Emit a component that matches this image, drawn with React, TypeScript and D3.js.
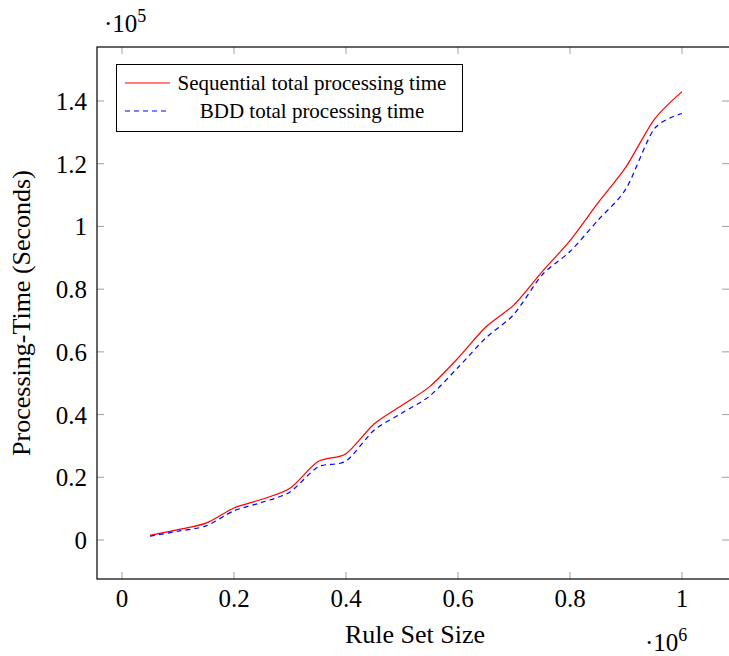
import React, {useEffect, useRef} from 'react';
import * as d3 from 'd3';

// rule set size (x 10^6)
const ruleSetSize = [0.05, 0.1, 0.15, 0.2, 0.25, 0.3, 0.35, 0.4, 0.45, 0.5, 0.55, 0.6, 0.65, 0.7, 0.75, 0.8, 0.85, 0.9, 0.95, 1.0];
// processing time (x 10^5 seconds)
const sequentialTime = [0.015, 0.033, 0.054, 0.102, 0.13, 0.165, 0.25, 0.275, 0.37, 0.43, 0.49, 0.58, 0.68, 0.75, 0.855, 0.955, 1.075, 1.19, 1.34, 1.43];
const bddTime = [0.012, 0.028, 0.045, 0.093, 0.12, 0.153, 0.233, 0.252, 0.35, 0.405, 0.46, 0.55, 0.645, 0.72, 0.845, 0.92, 1.02, 1.12, 1.31, 1.36];
const xTicks = [0, 0.2, 0.4, 0.6, 0.8, 1];
const yTicks = [0, 0.2, 0.4, 0.6, 0.8, 1, 1.2, 1.4];
const seriesNames = ['Sequential total processing time', 'BDD total processing time'];

const App = () => {
    const chartRef = useRef<SVGSVGElement>(null);
    const W = 729, H = 656;
    // plot frame in page coords (right edge runs off the canvas like the original)
    const box = {left: 97, top: 47, right: 731, bottom: 579};

    useEffect(() => {
        document.body.style.overflow = 'hidden';
        document.body.style.margin = '0';
        const svg = d3.select(chartRef.current);
        svg.selectAll('*').remove();
        const font = '"Liberation Serif", "Times New Roman", serif';

        const x = d3.scaleLinear().domain([0, 1]).range([122, 682]);
        const y = d3.scaleLinear().domain([0, 1.4]).range([540, 101]);

        // tick marks, inside, all four sides
        const ticks = svg.append('g').attr('stroke', '#a0a0a0').attr('stroke-width', 1);
        xTicks.forEach(t => {
            ticks.append('line').attr('x1', x(t)).attr('x2', x(t)).attr('y1', box.bottom).attr('y2', box.bottom - 7);
            ticks.append('line').attr('x1', x(t)).attr('x2', x(t)).attr('y1', box.top).attr('y2', box.top + 7);
        });
        yTicks.forEach(t => {
            ticks.append('line').attr('y1', y(t)).attr('y2', y(t)).attr('x1', box.left).attr('x2', box.left + 7);
            ticks.append('line').attr('y1', y(t)).attr('y2', y(t)).attr('x1', W).attr('x2', W - 7);
        });

        // frame
        svg.append('rect')
            .attr('x', box.left).attr('y', box.top)
            .attr('width', box.right - box.left).attr('height', box.bottom - box.top)
            .attr('fill', 'none').attr('stroke', '#000').attr('stroke-width', 1.2);

        // tick labels
        svg.append('g').selectAll('text').data(xTicks).join('text')
            .attr('x', d => x(d)).attr('y', 607)
            .attr('text-anchor', 'middle')
            .attr('font-family', font).attr('font-size', 25)
            .text(d => d3.format('')(d));
        svg.append('g').selectAll('text').data(yTicks).join('text')
            .attr('x', 87).attr('y', d => y(d) + 9)
            .attr('text-anchor', 'end')
            .attr('font-family', font).attr('font-size', 25)
            .text(d => d3.format('')(d));

        // scale multipliers
        const yMul = svg.append('text').attr('x', 104).attr('y', 32)
            .attr('font-family', font).attr('font-size', 25);
        yMul.append('tspan').text('·10');
        yMul.append('tspan').attr('font-size', 18).attr('dy', -10).text('5');
        const xMul = svg.append('text').attr('x', 645).attr('y', 651)
            .attr('font-family', font).attr('font-size', 25);
        xMul.append('tspan').text('·10');
        xMul.append('tspan').attr('font-size', 18).attr('dy', -10).text('6');

        // axis labels
        svg.append('text').attr('x', 415).attr('y', 643)
            .attr('text-anchor', 'middle')
            .attr('font-family', font).attr('font-size', 26)
            .text('Rule Set Size');
        svg.append('text')
            .attr('transform', 'translate(30,313) rotate(-90)')
            .attr('text-anchor', 'middle')
            .attr('font-family', font).attr('font-size', 26)
            .text('Processing-Time (Seconds)');

        // curves
        const line = d3.line<number>()
            .x((_, i) => x(ruleSetSize[i]))
            .y(d => y(d))
            .curve(d3.curveCardinal.tension(0.2));
        svg.append('path').datum(sequentialTime)
            .attr('fill', 'none').attr('stroke', '#ff0000').attr('stroke-width', 1.2)
            .attr('d', line);
        svg.append('path').datum(bddTime)
            .attr('fill', 'none').attr('stroke', '#0000ff').attr('stroke-width', 1.2)
            .attr('stroke-dasharray', '5,4')
            .attr('d', line);

        // legend
        const lg = svg.append('g');
        lg.append('rect').attr('x', 116.5).attr('y', 64.5).attr('width', 346).attr('height', 67)
            .attr('fill', '#fff').attr('stroke', '#000').attr('stroke-width', 1);
        const colors = ['#ff0000', '#0000ff'];
        const rows = [83, 111];
        seriesNames.forEach((name, i) => {
            lg.append('line').attr('x1', 125).attr('x2', 170).attr('y1', rows[i]).attr('y2', rows[i])
                .attr('stroke', colors[i]).attr('stroke-width', 1.2)
                .attr('stroke-dasharray', i === 1 ? '5,4' : null);
            lg.append('text').attr('x', 312).attr('y', rows[i] + 7)
                .attr('text-anchor', 'middle')
                .attr('font-family', font).attr('font-size', 21)
                .text(name);
        });
    }, []);

    return (
        <div style={{position: 'absolute', left: 0, top: 0, width: W, height: H, overflow: 'hidden'}}>
            <svg ref={chartRef} width={W} height={H} style={{display: 'block', background: '#fff'}}/>
        </div>
    );
};

export default App;
